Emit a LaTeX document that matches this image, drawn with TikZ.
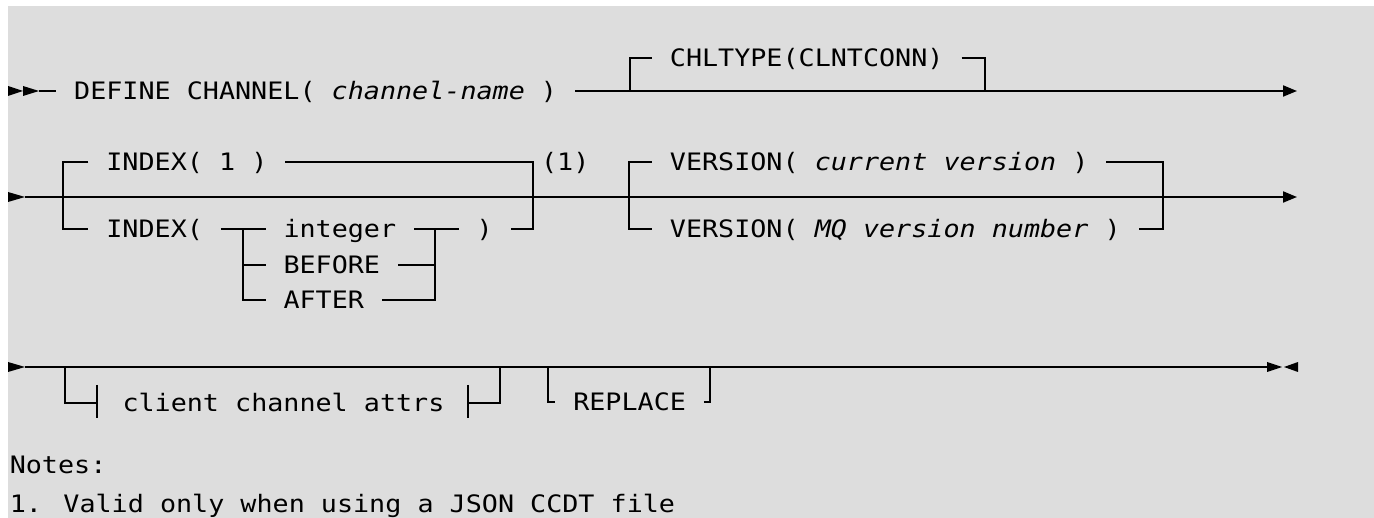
\documentclass[tikz,border=0pt]{standalone}
\usepackage{fontspec}
\usepackage{tikz}
\usetikzlibrary{arrows.meta}

\newfontfamily\railfont[FakeStretch=1.114]{DejaVu Sans Mono}
\definecolor{panel}{RGB}{221,221,221}

\begin{document}
\begin{tikzpicture}[x=1pt, y=-1pt, line width=2pt,
		rail/.style={anchor=text, inner xsep=17pt, inner ysep=0pt, text height=20pt, text depth=2pt, font=\railfont\fontsize{24}{28}\selectfont},
		railend/.style={-{Triangle[length=14pt, width=11pt]}}]
		\def\cx{9.8};
		\def\cw{16.1};
		\def\ya{91};
		\def\yb{197};
		\def\yc{367};

		\useasboundingbox (0,0) rectangle (1374,518);
		\clip (0,0) rectangle (1374,518);
		\fill[white] (0,0) rectangle (1374,518);
		\fill[panel] (8,6) rectangle (1374,518);

		\fill (8,86) -- (23,\ya) -- (8,96) -- cycle;
		\fill (23,86) -- (39,\ya) -- (23,96) -- cycle;
		\coordinate (start a) at (39,\ya);
		\coordinate (chl split) at (630,\ya);
		\coordinate (chl join) at (985,\ya);
		\coordinate (end a) at (1297,\ya);

		\node[rail] (define) at ({\cx+4*\cw},\ya+9) {DEFINE CHANNEL( \textit{channel-name} )};
		\node[rail] (chltype) at ({\cx+41*\cw},58+9) {CHLTYPE(CLNTCONN)};

		\draw (start a) -- (define.west);
		\draw[railend] (define.east) -- (end a);
		\draw (chl split) |- (chltype.west);
		\draw (chltype.east) -| (chl join);

		\fill (8,192) -- (25,\yb) -- (8,202) -- cycle;
		\coordinate (start b) at (25,\yb);
		\coordinate (end b) at (1297,\yb);
		\coordinate (idx split) at (63,\yb);
		\coordinate (idx join) at (533,\yb);
		\coordinate (int split) at (243,229);
		\coordinate (int join) at (435,229);
		\coordinate (ver split) at (629,\yb);
		\coordinate (ver join) at (1163,\yb);

		\node[rail] (idx one) at ({\cx+6*\cw},162+9) {INDEX( 1 )};
		\node[rail] (idx) at ({\cx+6*\cw},229+9) {INDEX(};
		\node[rail] (integer) at ({\cx+17*\cw},229+9) {integer};
		\node[rail] (before) at ({\cx+17*\cw},265+9) {BEFORE};
		\node[rail] (after) at ({\cx+17*\cw},300+9) {AFTER};
		\node[rail] (idx close) at ({\cx+29*\cw},229+9) {)};
		\node[rail] (note mark) at ({\cx+33*\cw},162+9) {(1)};
		\node[rail] (ver cur) at ({\cx+41*\cw},162+9) {VERSION( \textit{current version} )};
		\node[rail] (ver mq) at ({\cx+41*\cw},229+9) {VERSION( \textit{MQ version number} )};

		\draw[railend] (start b) -- (end b);
		\draw (idx one.west) -| (idx split) |- (idx.west);
		\draw (idx one.east) -| (idx join) |- (idx close.east);
		\draw (idx.east) -- (integer.west);
		\draw (integer.east) -- (idx close.west);
		\draw (int split) |- (before.west);
		\draw (int split) |- (after.west);
		\draw (int join) |- (before.east);
		\draw (int join) |- (after.east);
		\draw (ver cur.west) -| (ver split) |- (ver mq.west);
		\draw (ver cur.east) -| (ver join) |- (ver mq.east);

		\fill (8,362) -- (25,\yc) -- (8,372) -- cycle;
		\coordinate (start c) at (25,\yc);
		\coordinate (end c) at (1267,\yc);
		\coordinate (attrs split) at (65,\yc);
		\coordinate (attrs join) at (500,\yc);
		\coordinate (attrs in) at (97,403);
		\coordinate (attrs out) at (468,403);
		\coordinate (rep split) at (548,\yc);
		\coordinate (rep join) at (710,\yc);

		\node[rail] (attrs) at ({\cx+7*\cw},403+9) {client channel attrs};
		\node[rail] (replace) at ({\cx+35*\cw},402+9) {REPLACE};

		\draw (start c) -- (end c);
		\fill (1267,362) -- (1282,\yc) -- (1267,372) -- cycle;
		\fill (1298,362) -- (1284,\yc) -- (1298,372) -- cycle;
		\draw (attrs split) |- (attrs in);
		\draw (attrs in) ++(0,-18) -- ++(0,33);
		\draw (attrs out) ++(0,-18) -- ++(0,33);
		\draw (attrs out) -| (attrs join);
		\draw (rep split) |- (replace.west);
		\draw (replace.east) -| (rep join);

		\node[rail] (notes) at (\cx,473) {Notes:};
		\node[rail] (note one) at (\cx,512) {1. Valid only when using a JSON CCDT file};
	\end{tikzpicture}
\end{document}
